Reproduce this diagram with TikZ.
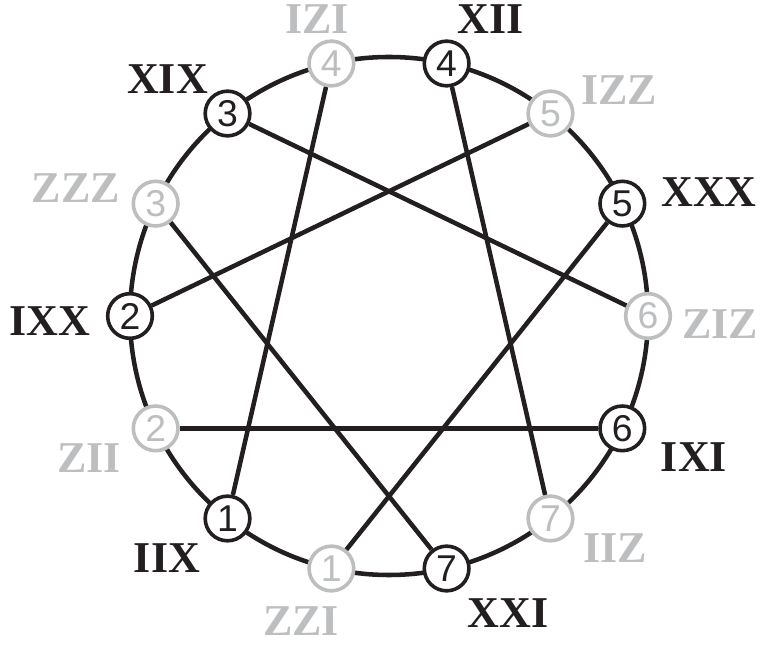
\documentclass[tikz,border=0pt]{standalone}
\usepackage{fontspec}
\usepackage{tikz}
\newfontfamily\digitfam{Liberation Sans}
\newfontfamily\romfam{Liberation Serif}
\definecolor{inkblack}{HTML}{231F20}
\definecolor{inkgray}{HTML}{BCBEC0}

\begin{document}
\begin{tikzpicture}[x=0.75pt, y=0.75pt,
  blk/.style={circle, draw=inkblack, fill=white, line width=2.7pt, minimum size=33.5pt, inner sep=0pt, text=inkblack, font={\digitfam\fontsize{28}{28}\selectfont}},
  gry/.style={blk, draw=inkgray, text=inkgray},
  lbl/.style={inner sep=0pt, text=inkblack, font={\romfam\bfseries\fontsize{33}{33}\selectfont}},
  glbl/.style={lbl, text=inkgray},
  wire/.style={draw=inkblack, line width=3.4pt}]
  \useasboundingbox (-389,-329) rectangle (372,316);
  \draw[wire] (0,0) circle[radius=194.25pt];
  % nodes on the ring
  \node[gry] (g6) at (0:259) {6};
  \node[blk] (k5) at (25.714:259) {5};
  \node[gry] (g5) at (51.429:259) {5};
  \node[blk] (k4) at (77.143:259) {4};
  \node[gry] (g4) at (102.857:259) {4};
  \node[blk] (k3) at (128.571:259) {3};
  \node[gry] (g3) at (154.286:259) {3};
  \node[blk] (k2) at (180:259) {2};
  \node[gry] (g2) at (205.714:259) {2};
  \node[blk] (k1) at (231.429:259) {1};
  \node[gry] (g1) at (257.143:259) {1};
  \node[blk] (k7) at (282.857:259) {7};
  \node[gry] (g7) at (308.571:259) {7};
  \node[blk] (k6) at (334.286:259) {6};
  % chords
  \draw[wire] (g4) -- (k1);
  \draw[wire] (k4) -- (g7);
  \draw[wire] (k3) -- (g6);
  \draw[wire] (g5) -- (k2);
  \draw[wire] (g3) -- (k7);
  \draw[wire] (k5) -- (g1);
  \draw[wire] (g2) -- (k6);
  % labels
  \node[lbl] (tk4) at (102,296.5) {XII};
  \node[glbl] (tg4) at (-72,297) {IZI};
  \node[lbl] (tk3) at (-221.5,237) {XIX};
  \node[glbl] (tg5) at (230,226) {IZZ};
  \node[glbl] (tg3) at (-313,128) {ZZZ};
  \node[lbl] (tk5) at (320,123.5) {XXX};
  \node[lbl] (tk2) at (-339,-5) {IXX};
  \node[glbl] (tg6) at (331,-8) {ZIZ};
  \node[glbl] (tg2) at (-300,-142) {ZII};
  \node[lbl] (tk6) at (305,-141) {IXI};
  \node[lbl] (tk1) at (-222,-242) {IIX};
  \node[glbl] (tg7) at (226,-232) {IIZ};
  \node[glbl] (tg1) at (-88,-305) {ZZI};
  \node[lbl] (tk7) at (119,-297) {XXI};
\end{tikzpicture}
\end{document}
